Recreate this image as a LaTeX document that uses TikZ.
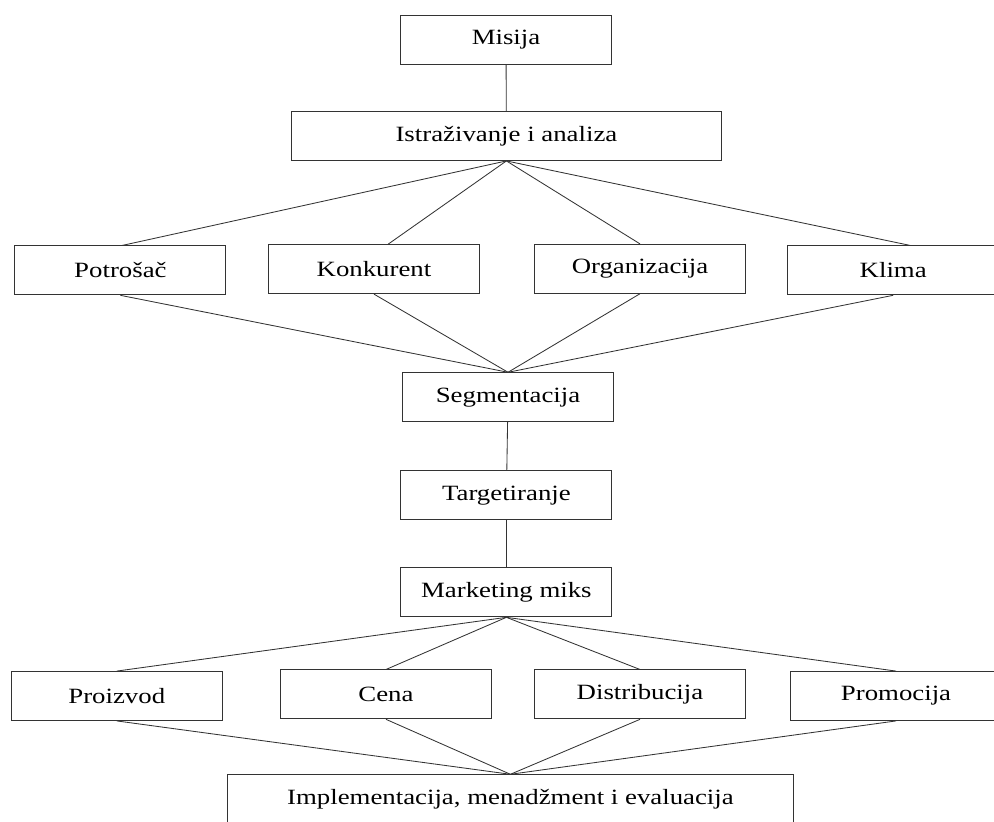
\documentclass[tikz,border=0pt]{standalone}
\usepackage{fontspec}
\setmainfont{Liberation Serif}[FakeStretch=1.23]
\begin{document}
\begin{tikzpicture}[line width=0.6pt]
    \tikzset{blok/.style={draw=black!80,minimum width=5.275cm,minimum height=1.225cm,inner sep=0pt,font=\fontsize{15.5}{18}\selectfont}}
    \useasboundingbox (0,0) rectangle (24.85,-20.55);
    \begin{scope}
    \clip (0,0) rectangle (24.85,-20.55);
    \node[blok] (misija) at (12.65,-0.99) {Misija};
    \node[blok,minimum width=10.73cm] (istr) at (12.66,-3.40) {Istraživanje i analiza};
    \node[blok] (potr) at (3.01,-6.76) {Potrošač};
    \node[blok] (konk) at (9.35,-6.73) {Konkurent};
    \node[blok] (org) at (16.0,-6.72) {Organizacija};
    \node[blok] (klima) at (22.33,-6.76) {Klima};
    \node[blok] (segm) at (12.70,-9.93) {Segmentacija};
    \node[blok] (targ) at (12.66,-12.38) {Targetiranje};
    \node[blok] (miks) at (12.66,-14.81) {Marketing miks};
    \node[blok] (proizv) at (2.92,-17.40) {Proizvod};
    \node[blok] (cena) at (9.65,-17.36) {Cena};
    \node[blok] (distr) at (16.0,-17.36) {Distribucija};
    \node[blok] (promo) at (22.40,-17.40) {Promocija};
    \node[blok,minimum width=14.13cm] (impl) at (12.76,-19.98) {Implementacija, menadžment i evaluacija};
    \draw[black!80] (misija) -- (istr);
    \foreach \n/\s in {potr/0.04,konk/0.35,org/0,klima/0.43}{\draw[black!80] (istr.south) -- ([xshift=\s cm]\n.north); \draw[black!80] (\n.south) -- (segm.north);}
    \draw[black!80] (segm) -- (targ);
    \draw[black!80] (targ) -- (miks);
    \foreach \n in {proizv,cena,distr,promo}{\draw[black!80] (miks.south) -- (\n.north); \draw[black!80] (\n.south) -- (impl.north);}
    \end{scope}
  \end{tikzpicture}
\end{document}
